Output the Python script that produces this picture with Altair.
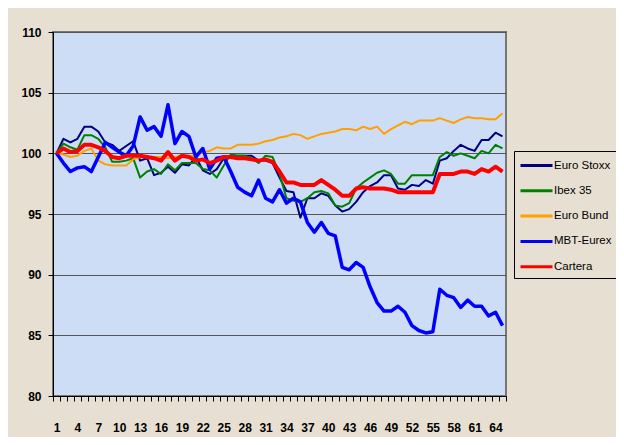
import altair as alt
import pandas as pd

# ---- data ----
sessions = list(range(1, 66))
series_names = ["Euro Stoxx", "Ibex 35", "Euro Bund", "MBT-Eurex", "Cartera"]

euro_stoxx = [100.0, 101.2, 100.9, 101.2, 102.2, 102.2, 101.8, 100.9, 100.7, 100.2,
              100.6, 101.0, 99.4, 99.6, 98.2, 98.4, 98.9, 98.4, 99.1, 99.0,
              99.7, 98.6, 98.3, 98.7, 99.6, 99.8, 99.8, 99.8, 99.8, 99.4,
              99.4, 99.2, 98.0, 96.9, 96.8, 94.7, 96.3, 96.3, 96.7, 96.5,
              95.7, 95.2, 95.4, 96.0, 96.8, 97.3, 97.6, 98.2, 98.2, 97.1,
              97.0, 97.4, 97.3, 97.8, 97.5, 99.4, 99.6, 100.2, 100.7, 100.4,
              100.2, 101.1, 101.1, 101.7, 101.4]
ibex35 = [100.0, 100.8, 100.5, 100.3, 101.5, 101.5, 101.2, 100.5, 99.3, 99.3,
          99.4, 99.6, 98.0, 98.5, 98.7, 98.3, 99.1, 98.6, 99.2, 99.2,
          99.2, 98.7, 98.6, 98.0, 99.0, 99.9, 99.8, 99.8, 99.6, 99.2,
          99.8, 99.7, 98.3, 96.3, 96.1, 96.0, 96.3, 96.8, 96.9, 96.7,
          95.7, 95.6, 95.9, 97.1, 97.6, 98.0, 98.4, 98.6, 98.3, 97.5,
          97.5, 98.2, 98.2, 98.2, 98.2, 99.7, 100.1, 99.8, 100.0, 99.8,
          99.6, 100.2, 100.0, 100.7, 100.4]
euro_bund = [100.0, 99.9, 99.7, 99.8, 100.2, 100.4, 99.4, 99.1, 99.0, 99.0,
             99.0, 99.5, 99.7, 99.7, 99.7, 99.7, 99.6, 99.7, 99.8, 99.8,
             99.8, 100.1, 100.2, 100.5, 100.4, 100.4, 100.7, 100.7, 100.7, 100.8,
             101.0, 101.1, 101.3, 101.4, 101.6, 101.5, 101.2, 101.4, 101.6, 101.7,
             101.8, 102.0, 102.0, 101.9, 102.2, 102.0, 102.2, 101.6, 102.0, 102.3,
             102.6, 102.4, 102.7, 102.7, 102.7, 102.9, 102.7, 102.5, 102.8, 103.0,
             102.9, 102.9, 102.8, 102.8, 103.3]
mbt_eurex = [100.0, 99.2, 98.5, 98.8, 98.9, 98.5, 99.7, 100.9, 100.5, 100.1,
             99.8, 100.6, 103.0, 101.9, 102.2, 101.4, 104.0, 100.8, 101.8, 101.4,
             99.7, 100.4, 98.7, 99.6, 99.7, 98.5, 97.2, 96.8, 96.5, 97.8,
             96.3, 96.0, 97.0, 95.9, 96.3, 96.0, 94.3, 93.5, 94.3, 93.4,
             93.2, 90.6, 90.4, 91.0, 90.6, 89.0, 87.7, 87.0, 87.0, 87.4,
             86.9, 85.8, 85.4, 85.2, 85.3, 88.8, 88.3, 88.1, 87.3, 87.9,
             87.4, 87.4, 86.6, 86.9, 85.8]
cartera = [100.0, 100.4, 100.1, 100.2, 100.7, 100.7, 100.5, 100.2, 99.7, 99.6,
           99.8, 99.8, 99.8, 99.7, 99.6, 99.4, 100.1, 99.4, 99.8, 99.7,
           99.4, 99.5, 99.2, 99.4, 99.7, 99.7, 99.6, 99.6, 99.5, 99.4,
           99.5, 99.3, 98.5, 97.6, 97.6, 97.4, 97.4, 97.4, 97.8, 97.4,
           97.0, 96.5, 96.5, 97.1, 97.2, 97.1, 97.1, 97.1, 97.0, 96.8,
           96.8, 96.8, 96.8, 96.8, 96.8, 98.3, 98.3, 98.3, 98.5, 98.5,
           98.3, 98.7, 98.5, 98.9, 98.5]
y_ticks = [80, 85, 90, 95, 100, 105, 110]

series_values = [euro_stoxx, ibex35, euro_bund, mbt_eurex, cartera]
colors = ["#000080", "#008000", "#FFA000", "#0000FF", "#FF0000"]
widths = [2, 2, 2, 3.5, 4]

rows = []
for name, vals in zip(series_names, series_values):
    for s, v in zip(sessions, vals):
        rows.append({"i": s, "v": v, "s": name})
df = pd.DataFrame(rows)

FONT = "Liberation Sans"
BG = "#E7E0D2"

x_enc = alt.X("i:O",
              scale=alt.Scale(type="band", paddingInner=0, paddingOuter=0),
              axis=alt.Axis(title=None, labelAngle=0, tickBand="extent",
                            labelExpr="(datum.value - 1) % 3 == 0 ? datum.label : ''",
                            labelOverlap=False, labelFont=FONT, labelFontSize=12,
                            labelFontWeight="bold", labelColor="black",
                            tickSize=5, tickColor="black", domainColor="black",
                            labelPadding=21, grid=False))
y_enc = alt.Y("v:Q",
              scale=alt.Scale(domain=[80, 110], nice=False, zero=False),
              axis=alt.Axis(title=None, values=y_ticks, grid=True, gridColor="#555555",
                            gridWidth=1, tickSize=5, tickColor="black",
                            domainColor="black", labelFont=FONT, labelFontSize=12,
                            labelFontWeight="bold", labelColor="black", labelPadding=7))
c_enc = alt.Color("s:N",
                  scale=alt.Scale(domain=series_names, range=colors),
                  legend=alt.Legend(title=None, orient="none", legendX=461, legendY=119,
                                    symbolType="M-1,0H3", symbolSize=256,
                                    symbolStrokeWidth=3, labelOffset=16,
                                    labelFont=FONT, labelFontSize=11.5, labelColor="black",
                                    rowPadding=9.3, padding=5,
                                    strokeColor="black", fillColor=BG))

layers = []
for name, w in zip(series_names, widths):
    layers.append(
        alt.Chart(df).transform_filter(alt.datum.s == name)
        .mark_line(strokeWidth=w, strokeJoin="round")
        .encode(x=x_enc, y=y_enc, color=c_enc)
    )

chart = alt.layer(*layers).properties(
    width=453, height=364,
    autosize=alt.AutoSizeParams(type="none"),
    padding={"left": 45, "top": 24, "right": 110, "bottom": 41},
    background=BG,
).configure_view(fill="#CDDDF6", stroke="#777777", strokeWidth=2)

chart.save("out.html", embed_options={"renderer": "svg", "actions": False})
